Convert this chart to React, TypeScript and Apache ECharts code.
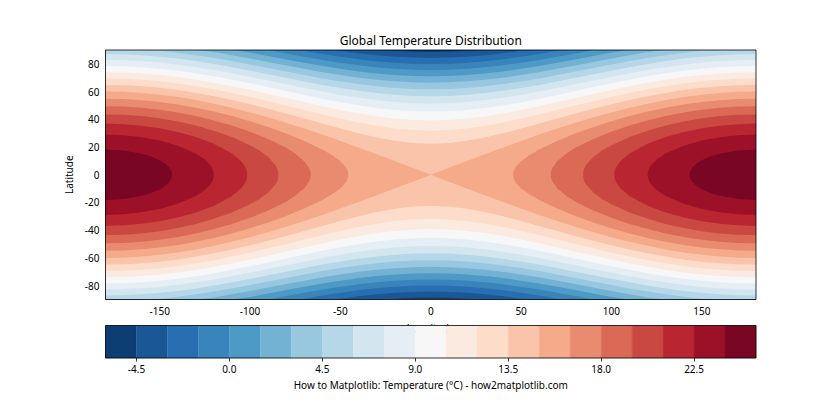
import React, { useEffect, useRef } from "react";
import * as echarts from "echarts";

// Contour levels (°C) of the filled contour plot / colorbar
const LEVELS = [-6, -4.5, -3, -1.5, 0, 1.5, 3, 4.5, 6, 7.5, 9, 10.5, 12, 13.5, 15, 16.5, 18, 19.5, 21, 22.5, 24, 25.5];

// RdBu_r colours of the 21 filled bands
const LEVEL_COLORS = [
  "#0c3d73", "#195797", "#276fb0", "#3884bb", "#4e9ac7", "#74b2d4", "#98c8e0",
  "#b6d7e8", "#d3e6f0", "#e5eef4", "#f7f7f7", "#faeae0", "#fddcc9", "#f9c4a9",
  "#f5aa89", "#e98b6e", "#da6a55", "#ca4842", "#b92632", "#9d1128", "#790622",
];

// Longitudes (0..180, mirrored to the west) where the band edges were read
const SAMPLE_LON = [0, 10, 20, 30, 40, 50, 60, 70, 80, 90, 100, 110, 120, 130, 140, 150, 160, 170, 180];

// Latitude (north, mirrored south) of the edge of region T >= level, levels -4.5 .. 15
const BAND_EDGE_LAT = [
  [88.6, 88.8, 89.4, 90, 90, 90, 90, 90, 90, 90, 90, 90, 90, 90, 90, 90, 90, 90, 90],
  [84.3, 84.5, 85.1, 86.2, 87.6, 89.4, 90, 90, 90, 90, 90, 90, 90, 90, 90, 90, 90, 90, 90],
  [79.9, 80.1, 80.8, 81.9, 83.3, 85.1, 87.1, 89.4, 90, 90, 90, 90, 90, 90, 90, 90, 90, 90, 90],
  [75.5, 75.7, 76.4, 77.5, 79.0, 80.8, 82.8, 85.1, 87.5, 90, 90, 90, 90, 90, 90, 90, 90, 90, 90],
  [71.0, 71.3, 71.9, 73.1, 74.5, 76.4, 78.5, 80.8, 83.2, 85.7, 88.2, 90, 90, 90, 90, 90, 90, 90, 90],
  [66.4, 66.7, 67.4, 68.5, 70.0, 71.9, 74.0, 76.4, 78.8, 81.4, 83.9, 86.3, 88.6, 90, 90, 90, 90, 90, 90],
  [61.6, 61.9, 62.6, 63.8, 65.4, 67.3, 69.5, 71.9, 74.4, 77.0, 79.5, 82.0, 84.3, 86.3, 88.1, 89.5, 90, 90, 90],
  [56.6, 56.9, 57.7, 58.9, 60.6, 62.6, 64.8, 67.3, 69.9, 72.5, 75.1, 77.6, 79.9, 82.0, 83.8, 85.2, 86.3, 86.9, 87.1],
  [51.3, 51.6, 52.4, 53.7, 55.5, 57.6, 60.0, 62.6, 65.3, 68.0, 70.6, 73.2, 75.5, 77.6, 79.4, 80.9, 81.9, 82.6, 82.8],
  [45.6, 45.9, 46.8, 48.2, 50.1, 52.3, 54.9, 57.6, 60.4, 63.3, 66.0, 68.6, 71.0, 73.2, 75.0, 76.5, 77.6, 78.2, 78.5],
  [39.2, 39.5, 40.6, 42.1, 44.2, 46.7, 49.5, 52.4, 55.3, 58.3, 61.2, 63.9, 66.4, 68.6, 70.5, 72.0, 73.1, 73.8, 74.0],
  [31.8, 32.2, 33.4, 35.3, 37.7, 40.5, 43.5, 46.7, 50.0, 53.1, 56.2, 59.0, 61.6, 63.9, 65.9, 67.4, 68.6, 69.3, 69.5],
  [22.3, 22.9, 24.5, 26.9, 29.9, 33.3, 36.9, 40.5, 44.1, 47.6, 50.8, 53.9, 56.6, 59.0, 61.1, 62.7, 63.9, 64.6, 64.8],
  [0, 5.0, 10.0, 14.8, 19.7, 24.4, 29.0, 33.3, 37.5, 41.4, 45.0, 48.4, 51.3, 53.9, 56.1, 57.8, 59.0, 59.8, 60.0],
];

// Edges [lon, lat] of the warm lobes (T >= level) near ±180°, levels 16.5 .. 24
const LOBE_EDGES: number[][][] = [
  [[45.6, 0], [45.8, 2.1], [46.5, 4.4], [47.5, 6.3], [50, 9.7], [55, 14.4], [60, 18.2], [70, 24.4], [80, 29.7], [90, 34.4], [100, 38.6], [110, 42.3], [120, 45.6], [130, 48.4], [140, 50.7], [150, 52.5], [160, 53.8], [170, 54.6], [180, 54.9]],
  [[66.4, 0], [66.7, 2.7], [67.5, 5.3], [70, 9.8], [75, 15.2], [80, 19.4], [90, 25.8], [100, 31.1], [110, 35.5], [120, 39.2], [130, 42.3], [140, 44.9], [150, 46.9], [160, 48.3], [170, 49.2], [180, 49.5]],
  [[84.3, 0], [84.5, 2.6], [85, 4.6], [86, 7.1], [90, 12.8], [95, 17.6], [100, 21.3], [110, 27.2], [120, 31.8], [130, 35.5], [140, 38.4], [150, 40.7], [160, 42.3], [170, 43.2], [180, 43.5]],
  [[101.5, 0], [101.8, 2.7], [102, 3.6], [103, 6.4], [105, 9.8], [110, 15.3], [120, 22.3], [130, 27.2], [140, 30.9], [150, 33.5], [160, 35.4], [170, 36.5], [180, 36.9]],
  [[120, 0], [120.3, 2.7], [121, 5.0], [122.5, 7.8], [125, 11.0], [130, 15.3], [140, 21.0], [150, 24.7], [160, 27.1], [170, 28.5], [180, 29.0]],
  [[143.1, 0], [143.4, 2.1], [144, 3.8], [145, 5.6], [147.5, 8.4], [150, 10.4], [155, 13.3], [160, 15.2], [170, 17.5], [180, 18.2]],
];

const LON_TICKS = [-150, -100, -50, 0, 50, 100, 150];
const LAT_TICKS = [-80, -60, -40, -20, 0, 20, 40, 60, 80];
const CBAR_TICKS = [-4.5, 0, 4.5, 9, 13.5, 18, 22.5];

const FONT = "Noto Sans";
const PLOT = { left: 105.5, top: 50, width: 650.5, height: 249.5 };
const CBAR = { left: 105.5, top: 325.5, width: 650.5, height: 32.5 };

// Build polygons (in data coordinates) of every nested region T >= level
function buildRegions(): number[][][][] {
  const regions: number[][][][] = [];
  regions.push([[[-180, -90], [180, -90], [180, 90], [-180, 90]]]);
  BAND_EDGE_LAT.forEach((lats) => {
    const n = SAMPLE_LON.length;
    const poly: number[][] = [];
    for (let i = n - 1; i >= 1; i--) poly.push([-SAMPLE_LON[i], lats[i]]);
    for (let i = 0; i < n; i++) poly.push([SAMPLE_LON[i], lats[i]]);
    for (let i = n - 1; i >= 0; i--) poly.push([SAMPLE_LON[i], -lats[i]]);
    for (let i = 1; i < n; i++) poly.push([-SAMPLE_LON[i], -lats[i]]);
    regions.push([poly]);
  });
  LOBE_EDGES.forEach((pts) => {
    const upper = pts.map((p) => [p[0], p[1]]);
    const lower = pts.slice(1).reverse().map((p) => [p[0], -p[1]]);
    const east = [...upper, ...lower];
    const west = east.map((p) => [-p[0], p[1]]);
    regions.push([east, west]);
  });
  return regions;
}

export default function App() {
  const ref = useRef<HTMLDivElement>(null);
  useEffect(() => {
    if (!ref.current) return;
    const chart = echarts.init(ref.current, undefined, { renderer: "svg" });
    const regions = buildRegions();
    const axisText = { color: "#000", fontSize: 10, fontFamily: FONT };
    const tickStyle = { show: true, length: 3.5, lineStyle: { color: "#000", width: 0.8 } };

    chart.setOption({
      animation: false,
      backgroundColor: "#fff",
      grid: [
        { ...PLOT, containLabel: false },
        { ...CBAR, containLabel: false },
      ],
      xAxis: [
        {
          type: "value", gridIndex: 0, min: -180, max: 180,
          axisLine: { show: false }, splitLine: { show: false },
          axisTick: { ...tickStyle, customValues: LON_TICKS },
          axisLabel: { ...axisText, margin: 6, customValues: LON_TICKS },
          name: "Longitude", nameLocation: "middle", nameGap: 23,
          nameTextStyle: { ...axisText, verticalAlign: "top" },
        },
        {
          type: "value", gridIndex: 1, min: -6, max: 25.5,
          axisLine: { show: false }, splitLine: { show: false },
          axisTick: { ...tickStyle, customValues: CBAR_TICKS },
          axisLabel: { ...axisText, margin: 6, customValues: CBAR_TICKS, formatter: (v: number) => v.toFixed(1) },
          name: "How to Matplotlib: Temperature (°C) - how2matplotlib.com",
          nameLocation: "middle", nameGap: 22,
          nameTextStyle: { ...axisText, verticalAlign: "top" },
        },
      ],
      yAxis: [
        {
          type: "value", gridIndex: 0, min: -90, max: 90,
          axisLine: { show: false }, splitLine: { show: false },
          axisTick: { ...tickStyle, customValues: LAT_TICKS },
          axisLabel: { ...axisText, margin: 6, customValues: LAT_TICKS },
          name: "Latitude", nameLocation: "middle", nameGap: 22, nameRotate: 90,
          nameTextStyle: { ...axisText },
        },
        {
          type: "value", gridIndex: 1, min: 0, max: 1, show: false,
        },
      ],
      graphic: [
        {
          type: "text", x: PLOT.left + PLOT.width / 2, y: 40.5, z: 10,
          style: { text: "Global Temperature Distribution", fontSize: 12, fontFamily: FONT, fill: "#000", align: "center", verticalAlign: "middle" },
        },
      ],
      series: [
        {
          type: "custom", xAxisIndex: 0, yAxisIndex: 0, clip: true, z: 2,
          data: regions.map((_, k) => [0, 0, k]),
          renderItem: (params: any, api: any) => {
            const k = params.dataIndex;
            return {
              type: "group",
              children: regions[k].map((poly) => ({
                type: "polygon",
                shape: { points: poly.map((p) => api.coord(p)) },
                style: { fill: LEVEL_COLORS[k], stroke: null },
              })),
            };
          },
        },
        {
          type: "custom", xAxisIndex: 0, yAxisIndex: 0, z: 4, silent: true,
          data: [[0, 0]],
          renderItem: (_p: any, api: any) => {
            const a = api.coord([-180, 90]);
            const b = api.coord([180, -90]);
            return {
              type: "rect",
              shape: { x: a[0], y: a[1], width: b[0] - a[0], height: b[1] - a[1] },
              style: { fill: "none", stroke: "#000", lineWidth: 0.8 },
            };
          },
        },
        {
          type: "custom", xAxisIndex: 1, yAxisIndex: 1, z: 6,
          data: LEVELS.slice(0, -1).map((lo, i) => [lo, LEVELS[i + 1], i]),
          encode: { x: [0, 1] },
          renderItem: (params: any, api: any) => {
            const i = params.dataIndex;
            const a = api.coord([api.value(0), 1]);
            const b = api.coord([api.value(1), 0]);
            return {
              type: "rect",
              shape: { x: a[0], y: a[1], width: b[0] - a[0], height: b[1] - a[1] },
              style: { fill: LEVEL_COLORS[i], stroke: LEVEL_COLORS[i], lineWidth: 0.3 },
            };
          },
        },
        {
          type: "custom", xAxisIndex: 1, yAxisIndex: 1, z: 8, silent: true,
          data: [[0, 0]],
          renderItem: (_p: any, api: any) => {
            const a = api.coord([LEVELS[0], 1]);
            const b = api.coord([LEVELS[LEVELS.length - 1], 0]);
            return {
              type: "rect",
              shape: { x: a[0], y: a[1], width: b[0] - a[0], height: b[1] - a[1] },
              style: { fill: "none", stroke: "#000", lineWidth: 0.8 },
            };
          },
        },
      ],
    });
    return () => chart.dispose();
  }, []);
  return (
    <div
      ref={ref}
      style={{ position: "fixed", left: 0, top: 0, width: 840, height: 420, background: "#fff" }}
    />
  );
}
